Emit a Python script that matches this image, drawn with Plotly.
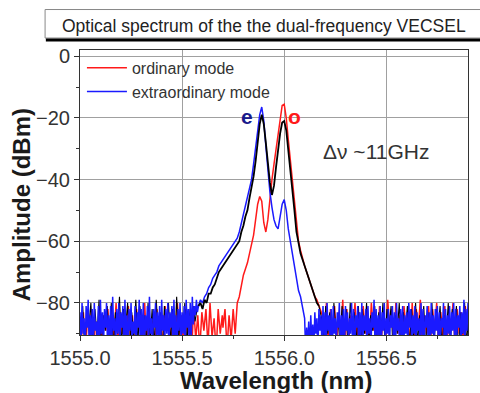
import numpy as np
import plotly.graph_objects as go

# ---- data ----
# Segment start wavelengths (nm) and sampling steps for each recorded trace
blue_starts = [1555.000, 1555.58, 1556.105]
blue_steps = [0.005, 0.01, 0.005]
black_starts = [1555.0033, 1555.58, 1556.1833]
black_steps = [0.01, 0.01, 0.01]
red_starts = [1555.0067, 1555.70, 1556.1867]
red_steps = [0.01, 0.01, 0.01]

blue_left_noise = [-83,-93,-80,-90,-85,-96,-81,-88,-79,-94,
                   -84,-91,-82,-95,-80,-89,-86,-93,-81,-97,
                   -79,-90,-83,-94,-82,-88,-80,-95,-84,-92,
                   -81,-96,-78,-89,-85,-93,-82,-90,-80,-94,
                   -83,-88,-81,-97,-79,-91,-84,-95,-82,-89,
                   -80,-93,-86,-90,-81,-96,-83,-88,-79,-94,
                   -82,-92,-80,-95,-84,-89,-81,-93,-78,-90,
                   -85,-96,-82,-88,-80,-94,-83,-91,-81,-97,
                   -79,-89,-84,-93,-82,-90,-80,-95,-83,-88,
                   -81,-94,-79,-92,-84,-96,-82,-89,-80,-93,
                   -83,-90,-81,-95,-79,-88,-82,-94,-80,-91,
                   -78,-87,-81,-84,-79,-83]
blue_peak = [-81,-79,-80,-78,-77,-75,-74,-72,-71,-70,
             -68,-67,-66,-65,-64,-63,-62,-61,-60,-59,
             -57,-54,-52,-49,-46,-43,-40,-35,-30,-24,
             -19,-16.5,-21,-29,-37,-44,-49,-53,-55,-56,
             -52,-48,-46.5,-50,-56,-60,-65,-69,-72,-76,
             -78,-81,-85]
blue_right_noise = [-96,-88,-94,-86,-97,-84,-92,-87,-95,-83,
                    -90,-85,-96,-82,-89,-84,-94,-81,-91,-83,
                    -95,-80,-89,-84,-93,-82,-97,-81,-90,-85,
                    -94,-83,-88,-80,-95,-84,-91,-82,-96,-81,
                    -89,-83,-93,-85,-90,-80,-94,-82,-97,-84,
                    -88,-81,-95,-83,-91,-80,-93,-84,-89,-82,
                    -96,-81,-90,-85,-94,-83,-88,-79,-95,-82,
                    -91,-84,-93,-81,-97,-83,-89,-80,-94,-85,
                    -90,-82,-96,-84,-88,-81,-93,-83,-95,-80,
                    -89,-85,-94,-82,-91,-81,-97,-84,-90,-83,
                    -95,-80,-88,-82,-93,-84,-90,-81,-96,-83,
                    -89,-85,-94,-80,-91,-82,-95,-84,-88,-81,
                    -93,-83,-97,-80,-90,-84,-94,-82,-89,-81,
                    -95,-83,-91,-85,-88,-80,-96,-82,-93,-84,
                    -90,-81,-94,-83,-89,-80,-95,-82,-91,-84,
                    -88,-81,-96,-83,-90,-79,-94,-82,-89,-80]

black_left_noise = [-90,-81,-95,-83,-88,-80,-94,-82,-91,-79,
                    -96,-84,-89,-81,-93,-80,-95,-83,-90,-78,
                    -94,-82,-88,-80,-96,-83,-91,-79,-93,-81,
                    -89,-84,-95,-80,-92,-82,-94,-79,-90,-83,
                    -96,-81,-88,-80,-93,-82,-95,-78,-91,-84,
                    -89,-80,-94,-82,-90,-81,-86,-82]
black_peak = [-81,-80,-82,-79,-80,-77,-77,-75,-74,-72,
              -70,-69,-68,-67,-66,-65,-64,-63,-62,-61,
              -60,-57,-55,-52,-50,-46,-43,-39,-34,-28,
              -22,-19,-22,-28,-35,-41,-45,-42,-36,-30,
              -25,-21.5,-21,-24,-30,-36,-42,-50,-57,-61,
              -64,-66,-68,-70,-72,-74,-76,-78,-80,-81]
black_right_noise = [-85,-93,-81,-90,-83,-96,-80,-89,-84,-94,
                     -81,-91,-82,-95,-80,-88,-83,-93,-81,-96,
                     -82,-90,-80,-94,-84,-89,-81,-95,-83,-91,
                     -80,-93,-82,-88,-81,-96,-84,-90,-80,-94,
                     -83,-89,-81,-95,-82,-91,-80,-93,-84,-88,
                     -81,-96,-83,-90,-80,-94,-82,-89,-81,-95,
                     -84,-91,-80,-93,-82,-88,-81,-96,-83,-90,
                     -80,-94,-82]

red_left_noise = [-92,-83,-96,-85,-90,-82,-95,-86,-91,-81,
                  -94,-84,-89,-82,-96,-85,-92,-80,-95,-83,
                  -90,-86,-94,-81,-91,-84,-96,-82,-89,-85,
                  -93,-80,-95,-83,-90,-86,-94,-82,-92,-84,
                  -96,-81,-89,-85,-93,-83,-95,-80,-91,-84,
                  -94,-82,-90,-86,-96,-81,-92,-84,-95,-83,
                  -89,-82,-94,-80,-91,-85,-96,-82,-90,-84]
red_peak = [-88,-82,-95,-84,-92,-82,-90,-80,-78,-74,
            -71,-69,-67,-64,-61,-58,-53,-48,-45.5,-47,
            -54,-57,-53,-46,-40,-35,-30,-25,-20,-16,
            -15.6,-20,-27,-34,-40,-48,-55,-60,-63,-66,
            -68,-70,-72,-74,-76,-78,-79,-81]
red_right_noise = [-84,-92,-80,-95,-82,-89,-81,-94,-83,-90,
                   -79,-96,-82,-91,-84,-88,-80,-93,-83,-95,
                   -81,-90,-82,-94,-80,-89,-84,-96,-81,-91,
                   -83,-93,-79,-88,-82,-95,-80,-90,-84,-94,
                   -81,-89,-83,-96,-80,-92,-82,-88,-79,-95,
                   -84,-90,-81,-93,-82,-89,-80,-96,-83,-91,
                   -81,-94,-84,-88,-80,-95,-82,-90,-83,-93,
                   -81,-89,-84]

x_ticks = [1555.0, 1555.5, 1556.0, 1556.5]
y_ticks = [0, -20, -40, -60, -80]
title_text = "Optical spectrum of the the dual-frequency VECSEL"


def seg_x(start, step, values):
    return list(np.round(start + step * np.arange(len(values)), 4))


ext_segs = [blue_left_noise, blue_peak, blue_right_noise]
ext_x = sum([seg_x(s, d, v) for s, d, v in zip(blue_starts, blue_steps, ext_segs)], [])
ext_y = sum(ext_segs, [])

ord_segs = [red_left_noise, red_peak, red_right_noise]
ord_x = sum([seg_x(s, d, v) for s, d, v in zip(red_starts, red_steps, ord_segs)], [])
ord_y = sum(ord_segs, [])

blk_lx = seg_x(black_starts[0], black_steps[0], black_left_noise)
blk_px = seg_x(black_starts[1], black_steps[1], black_peak)
blk_rx = seg_x(black_starts[2], black_steps[2], black_right_noise)
# noise part of black trace (thin) and peak part (thicker), sharing junction points
blk_noise_x = blk_lx + [blk_px[0]] + [None] + [blk_px[-1]] + blk_rx
blk_noise_y = black_left_noise + [black_peak[0]] + [None] + [black_peak[-1]] + black_right_noise

# ---- figure ----
fig = go.Figure()
fig.add_trace(go.Scatter(x=ord_x, y=ord_y, mode="lines", name="ordinary mode",
                         line=dict(color="#ff1a1a", width=1.5)))
fig.add_trace(go.Scatter(x=blk_noise_x, y=blk_noise_y, mode="lines", showlegend=False,
                         connectgaps=False, line=dict(color="#000000", width=1.1)))
fig.add_trace(go.Scatter(x=ext_x, y=ext_y, mode="lines", name="extraordinary mode",
                         line=dict(color="#1a1aff", width=1.5)))
fig.add_trace(go.Scatter(x=blk_px, y=black_peak, mode="lines", showlegend=False,
                         line=dict(color="#000000", width=1.8)))

font_family = "Liberation Sans, Arial, sans-serif"

fig.update_layout(
    width=480, height=393,
    margin=dict(l=80, r=12, t=50, b=58),
    paper_bgcolor="white", plot_bgcolor="white",
    font=dict(family=font_family, color="#333333", size=16),
    showlegend=True,
    legend=dict(x=0.005, y=0.997, xanchor="left", yanchor="top",
                bgcolor="rgba(0,0,0,0)", font=dict(size=16, color="#333333"),
                traceorder="normal", itemwidth=40, tracegroupgap=0),
    xaxis=dict(range=[1555.0, 1556.9], tickvals=x_ticks, tickformat=".1f",
               showgrid=True, gridcolor="#a0a0a0", gridwidth=1,
               showline=True, linecolor="#333333", linewidth=1, mirror=True,
               ticks="outside", ticklen=5, tickcolor="#333333",
               minor=dict(dtick=0.25, ticks="outside", ticklen=3, tickcolor="#333333", showgrid=False),
               zeroline=False,
               tickfont=dict(size=20, color="#333333")),
    yaxis=dict(range=[-90.4, 2.0], tickvals=y_ticks,
               showgrid=True, gridcolor="#a0a0a0", gridwidth=1,
               showline=True, linecolor="#333333", linewidth=1, mirror=True,
               ticks="outside", ticklen=5, tickcolor="#333333",
               minor=dict(dtick=10, ticks="outside", ticklen=3, tickcolor="#333333", showgrid=False),
               zeroline=False,
               tickfont=dict(size=20, color="#333333")),
)

# axis titles
fig.add_annotation(xref="paper", yref="paper", x=0.505, y=-0.158, text="<b>Wavelength (nm)</b>",
                   showarrow=False, xanchor="center", yanchor="middle",
                   font=dict(size=24, color="#1a1a1a", family=font_family))
fig.add_annotation(xref="paper", yref="paper", x=-0.152, y=0.455, text="<b>Amplitude (dBm)</b>",
                   showarrow=False, textangle=-90, xanchor="center", yanchor="middle",
                   font=dict(size=24, color="#1a1a1a", family=font_family))

# title box
fig.add_shape(type="rect", xref="paper", yref="paper", x0=-0.09, x1=1.05, y0=1.042, y1=1.142,
              line=dict(color="#888888", width=1), fillcolor="white", layer="above")
fig.add_shape(type="line", xref="paper", yref="paper", x0=-0.088, x1=1.05, y0=1.035, y1=1.035,
              line=dict(color="#000000", width=3), layer="above")
fig.add_annotation(xref="paper", yref="paper", x=0.475, y=1.085, text=title_text, showarrow=False,
                   font=dict(size=17.5, color="#222222", family=font_family), xanchor="center", yanchor="middle")

# peak labels
fig.add_annotation(x=1555.82, y=-19.5, text="<b>e</b>", showarrow=False,
                   font=dict(size=21, color="#1a1a8c", family=font_family))
fig.add_annotation(x=1556.05, y=-19.5, text="<b>o</b>", showarrow=False,
                   font=dict(size=21, color="#ff1a1a", family=font_family))
fig.add_annotation(x=1556.45, y=-31, text="Δν ~11GHz", showarrow=False,
                   font=dict(size=21, color="#333333", family=font_family))

fig.write_html("out.html")
